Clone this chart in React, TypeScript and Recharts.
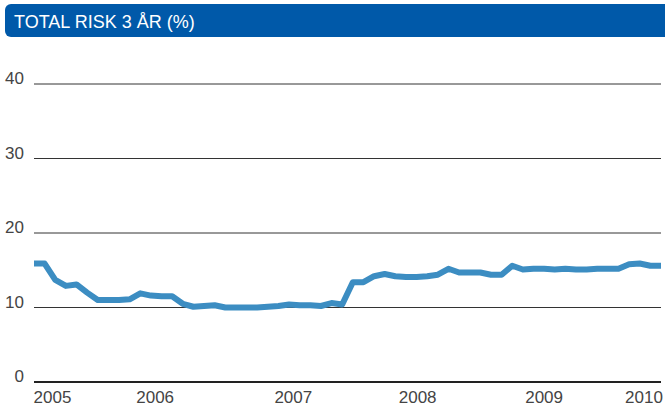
import React from "react";
import { LineChart, Line, XAxis, YAxis, CartesianGrid } from "recharts";

const title = "TOTAL RISK 3 ÅR (%)";

// monthly observations, mid-2005 .. mid-2010
const riskValues: number[] = [
  15.9, 15.9, 13.7, 12.9, 13.1, 12.0, 11.0, 11.0, 11.0, 11.1,
  11.9, 11.6, 11.5, 11.5, 10.5, 10.1, 10.2, 10.3, 10.0, 10.0,
  10.0, 10.0, 10.1, 10.2, 10.4, 10.3, 10.3, 10.2, 10.6, 10.4,
  13.4, 13.4, 14.2, 14.5, 14.2, 14.1, 14.1, 14.2, 14.4, 15.2,
  14.7, 14.7, 14.7, 14.4, 14.4, 15.6, 15.1, 15.2, 15.2, 15.1,
  15.2, 15.1, 15.1, 15.2, 15.2, 15.2, 15.8, 15.9, 15.6, 15.6,
];

const yearBoundaries = [0, 5.84, 17.7, 30.5, 42.4, 53.1, 59];
const yearLabelPositions = [1.74, 11.4, 24.4, 36.1, 48.0, 57.4];
const yearLabels = ["2005", "2006", "2007", "2008", "2009", "2010"];
const yTicks = [0, 10, 20, 30, 40];

const data = riskValues.map((v, i) => ({ i, v }));

const FONT = '"Liberation Sans", Arial, sans-serif';

const YTick = (props: any) => {
  const { x, y, payload } = props;
  return (
    <text x={x} y={y} textAnchor="end" fill="#444" fontSize={17} fontFamily={FONT}>
      {payload.value}
    </text>
  );
};

const XLabelTick = (props: any) => {
  const { x, y, payload } = props;
  const idx = yearLabelPositions.indexOf(payload.value);
  return (
    <text x={x} y={y} dy="0.71em" textAnchor="middle" fill="#444" fontSize={17} fontFamily={FONT}>
      {idx >= 0 ? yearLabels[idx] : ""}
    </text>
  );
};

export default function App() {
  return (
    <div style={{ position: "absolute", left: 0, top: 0, width: 665, height: 406, background: "#fff" }}>
      <div
        style={{
          position: "absolute",
          left: 5,
          top: 4,
          width: 660,
          height: 33,
          background: "#0059A9",
          borderRadius: "6px 0 0 6px",
        }}
      >
        <span
          style={{
            position: "absolute",
            left: 9,
            top: 7,
            color: "#fff",
            fontSize: 18,
            lineHeight: "22px",
            fontFamily: FONT,
            whiteSpace: "nowrap",
          }}
        >
          {title}
        </span>
      </div>
      <div style={{ position: "absolute", left: 0, top: 0 }}>
        <LineChart width={665} height={406} data={data} margin={{ top: 84, right: 4, bottom: 0, left: 0 }}>
          <CartesianGrid vertical={false} stroke="#333" strokeWidth={1} />
          <YAxis
            domain={[0, 40]}
            ticks={yTicks}
            width={34}
            axisLine={false}
            tickLine={false}
            tickSize={0}
            tickMargin={10}
            tick={<YTick />}
            interval={0}
          />
          <XAxis
            xAxisId="bounds"
            dataKey="i"
            type="number"
            domain={[0, 59]}
            ticks={yearBoundaries}
            interval={0}
            mirror
            height={5}
            tick={false}
            tickSize={5}
            axisLine={{ stroke: "#222", strokeWidth: 2 }}
            tickLine={{ stroke: "#222", strokeWidth: 2 }}
          />
          <XAxis
            xAxisId="labels"
            dataKey="i"
            type="number"
            domain={[0, 59]}
            ticks={yearLabelPositions}
            interval={0}
            height={24}
            axisLine={false}
            tickLine={false}
            tickSize={0}
            tickMargin={9}
            tick={<XLabelTick />}
          />
          <Line
            xAxisId="labels"
            dataKey="v"
            stroke="none"
            dot={false}
            activeDot={false}
            isAnimationActive={false}
          />
          <Line
            xAxisId="bounds"
            type="linear"
            dataKey="v"
            stroke="#3C8DC2"
            strokeWidth={6}
            strokeLinejoin="round"
            dot={false}
            activeDot={false}
            isAnimationActive={false}
          />
        </LineChart>
      </div>
    </div>
  );
}
